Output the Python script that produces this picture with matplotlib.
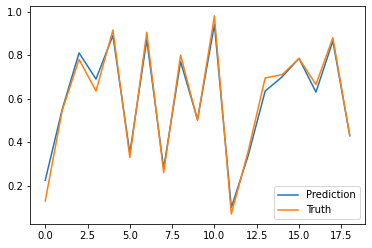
import numpy as np
import matplotlib
matplotlib.use("Agg")
import matplotlib.pyplot as plt

# values
prediction = [0.225, 0.55, 0.81, 0.69, 0.89, 0.35, 0.87, 0.28, 0.77, 0.505,
              0.94, 0.10, 0.34, 0.635, 0.70, 0.785, 0.63, 0.865, 0.43]
truth = [0.13, 0.545, 0.78, 0.635, 0.915, 0.33, 0.905, 0.26, 0.80, 0.50,
         0.98, 0.07, 0.36, 0.695, 0.71, 0.785, 0.665, 0.88, 0.43]

fig = plt.figure(figsize=(372 / 72, 248 / 72), dpi=72)
ax = fig.add_axes([30 / 372, 24 / 248, 335 / 372, 218 / 248])
x = np.arange(len(prediction))
ax.plot(x, prediction, label="Prediction")
ax.plot(x, truth, label="Truth")
ax.legend(loc="lower right")

fig.savefig("out.png", dpi=72)
